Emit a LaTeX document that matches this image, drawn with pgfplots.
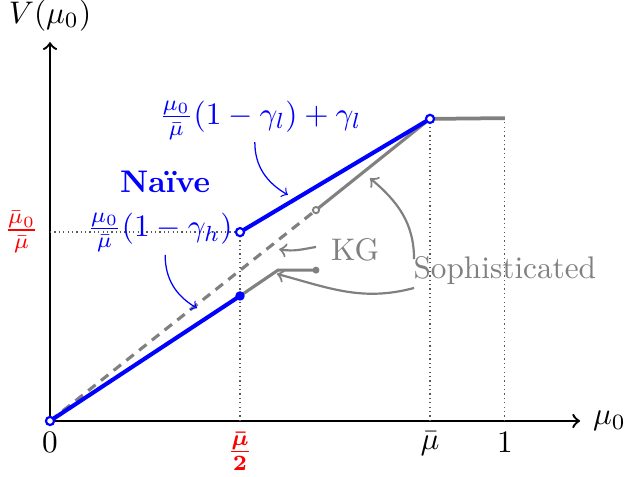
\documentclass[border=0pt]{standalone}
\usepackage{amsmath}
\usepackage{pgfplots}
\pgfplotsset{compat=1.18}

\begin{document}
\begin{tikzpicture}
\begin{axis}[
  x=121.6pt, y=121.6pt,
  xmin=0, xmax=1.395, ymin=0, ymax=0.997,
  axis lines=left,
  axis line style={-to, line width=0.75pt},
  clip=false,
  enlargelimits=false,
  xtick={0,0.5,1,1.197},
  xticklabels={$0$, $\color{red}\boldsymbol{\frac{\bar\mu}{2}}$, $\bar\mu$, $1$},
  ytick={0.497},
  yticklabels={$\color{red}\frac{\bar\mu_0}{\bar\mu}$},
  major tick length=0pt,
]
% guide lines
\addplot[densely dotted, black!65] coordinates {(0,0.497) (0.5,0.497)};
\addplot[densely dotted, black!65] coordinates {(0.5,0) (0.5,0.497)};
\addplot[densely dotted, black!65] coordinates {(1,0) (1,0.795)};
\addplot[densely dotted, black!65] coordinates {(1.197,0) (1.197,0.797)};

% sophisticated / KG value (gray)
\addplot[gray, line width=1pt, dash pattern=on 3pt off 2.2pt] coordinates {(0,0) (0.7,0.555)};
\addplot[gray, line width=1pt] coordinates {(0.7,0.555) (1,0.795)};
\addplot[gray, line width=1pt] coordinates {(0.5,0.329) (0.6,0.397) (0.7,0.397)};
\addplot[gray, line width=1.2pt] coordinates {(1,0.795) (1.197,0.797)};

% naive value (blue)
\addplot[blue, line width=1.3pt] coordinates {(0,0) (0.5,0.329)};
\addplot[blue, line width=1.3pt] coordinates {(0.5,0.497) (1,0.795)};

% end points
\addplot[only marks, mark=*, mark size=1.3pt, mark options={draw=blue, fill=white, line width=0.7pt}] coordinates {(0,0) (0.5,0.497) (1,0.795)};
\addplot[only marks, mark=*, mark size=1.3pt, blue] coordinates {(0.5,0.329)};
\addplot[only marks, mark=*, mark size=0.9pt, gray] coordinates {(0.7,0.397)};
\addplot[only marks, mark=*, mark size=1pt, mark options={draw=gray, fill=white, line width=0.6pt}] coordinates {(0.7,0.555)};

% axis labels
\node[anchor=west] at (axis cs:1.40,0) {$\mu_0$};
\node[anchor=south] at (axis cs:0,0.997) {$V(\mu_0)$};

% annotations
\node[blue] at (axis cs:0.553,0.792) {$\frac{\mu_0}{\bar\mu}(1-\gamma_l)+\gamma_l$};
\node[blue, font=\bfseries] at (axis cs:0.303,0.629) {Naïve};
\node[blue, anchor=east, inner sep=1pt] at (axis cs:0.49,0.497) {$\frac{\mu_0}{\bar\mu}(1-\gamma_h)$};
\node[gray] at (axis cs:0.803,0.45) {KG};
\node[gray] at (axis cs:1.197,0.397) {Sophisticated};

\draw[->, blue, line width=0.4pt] (axis cs:0.539,0.734) to[out=-90, in=150] (axis cs:0.626,0.595);
\draw[->, blue, line width=0.4pt] (axis cs:0.303,0.437) to[out=-90, in=150] (axis cs:0.387,0.297);
\draw[->, gray, line width=0.7pt] (axis cs:0.700,0.458) to[out=190, in=-10] (axis cs:0.603,0.452);
\draw[->, gray, line width=0.7pt] (axis cs:0.958,0.426) to[out=90, in=-40] (axis cs:0.842,0.639);
\draw[->, gray, line width=0.7pt] (axis cs:0.958,0.350) to[out=195, in=-15] (axis cs:0.597,0.387);

\coordinate (BL) at (axis cs:-0.1316,-0.1474);
\coordinate (TR) at (axis cs:1.5132,1.1079);
\end{axis}
\pgfresetboundingbox
\path (BL) rectangle (TR);
\end{tikzpicture}
\end{document}
